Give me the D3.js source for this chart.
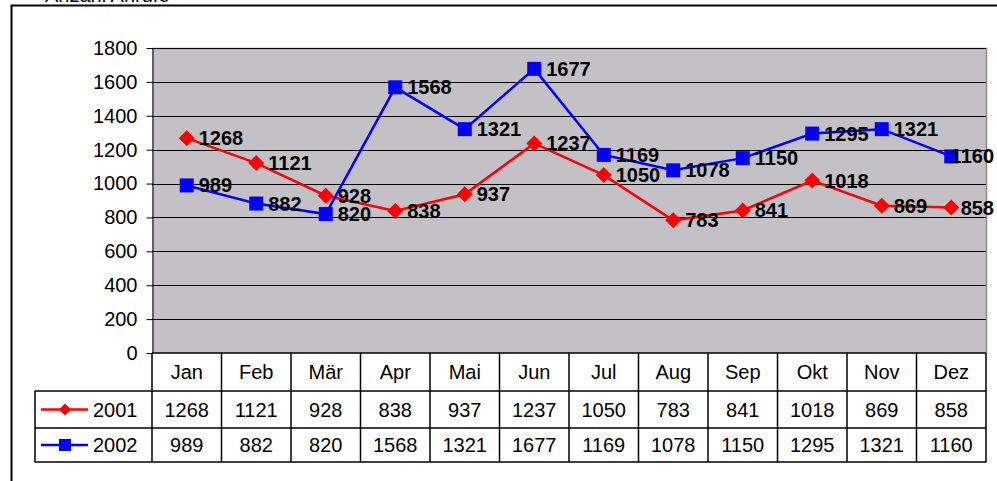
<!DOCTYPE html>
<html><head><meta charset="utf-8">
<script src="https://cdn.jsdelivr.net/npm/d3@7"></script>
<style>body{margin:0;background:#fff}svg{display:block;font-family:"Liberation Sans",Arial,sans-serif}</style>
</head><body><svg id="c" width="997" height="481"></svg>
<script>
const months = ["Jan","Feb","Mär","Apr","Mai","Jun","Jul","Aug","Sep","Okt","Nov","Dez"];
const s2001 = [1268,1121,928,838,937,1237,1050,783,841,1018,869,858];
const s2002 = [989,882,820,1568,1321,1677,1169,1078,1150,1295,1321,1160];
const yTicks = [0,200,400,600,800,1000,1200,1400,1600,1800];
const seriesNames = ["2001","2002"];
const colors = ["#ff0000","#0000ff"];

const svg = d3.select("#c");
const L = 152, R = 986, T = 48, B = 353;
const x = d3.scaleBand().domain(months).range([L, R]);
const y = d3.scaleLinear().domain([0,1800]).range([B, T]);
const FS = 20;

// outer frame
svg.append("path").attr("d","M11.5,481 V5.5 H997").attr("fill","none").attr("stroke","#000").attr("stroke-width",2);
svg.append("text").attr("x",45).attr("y",2).attr("font-size",FS).attr("fill","#000").text("Anzahl Anrufe");

// plot area
svg.append("rect").attr("x",L).attr("y",T).attr("width",R-L).attr("height",B-T).attr("fill","#c3c1c5");
svg.append("path").attr("d",`M${L},${T+0.5} H${R+0.5} V${B}`).attr("fill","none").attr("stroke","#8a8a8a").attr("stroke-width",1.5);
svg.append("g").selectAll("line").data(yTicks.filter(d=>d>0)).join("line")
  .attr("x1",L).attr("x2",R).attr("y1",d=>Math.round(y(d))+0.5).attr("y2",d=>Math.round(y(d))+0.5)
  .attr("stroke","#000").attr("stroke-width",1);

// y axis
const ya = svg.append("g").attr("transform",`translate(${L+0.5},0)`)
  .call(d3.axisLeft(y).tickValues(yTicks).tickFormat(d3.format("d")).tickSize(6).tickPadding(9).tickSizeOuter(0));
ya.select(".domain").attr("stroke","#000");
ya.selectAll("text").attr("font-size",FS).attr("font-family","Liberation Sans, Arial, sans-serif").attr("fill","#000");
ya.selectAll("line").attr("stroke","#000");

// lines & markers
const series = [s2001, s2002];
const line = d3.line().x((d,i)=>x(months[i])+x.bandwidth()/2).y(d=>y(d));
series.forEach((s,k)=>{
  svg.append("path").datum(s).attr("d",line).attr("fill","none").attr("stroke",colors[k]).attr("stroke-width",2.5);
});
series.forEach((s,k)=>{
  const g = svg.append("g");
  s.forEach((v,i)=>{
    const cx = x(months[i])+x.bandwidth()/2, cy = y(v);
    if(k===0){
      g.append("path").attr("d",`M${cx},${cy-8} L${cx+8},${cy} L${cx},${cy+8} L${cx-8},${cy} Z`).attr("fill",colors[k]);
    } else {
      g.append("rect").attr("x",cx-7).attr("y",cy-7).attr("width",14).attr("height",14).attr("fill",colors[k]);
    }
  });
});
series.forEach((s,k)=>{
  svg.append("g").selectAll("text").data(s).join("text")
    .attr("x",(d,i)=>x(months[i])+x.bandwidth()/2+12).attr("y",d=>y(d)+7)
    .attr("font-size",FS).attr("font-weight","bold").attr("fill","#000").text(d=>d)
    .each(function(){
      const w = this.getComputedTextLength();
      const x0 = +this.getAttribute("x");
      if (x0 + w > 994) this.setAttribute("x", 994 - w);
    });
});

// data table
const r0 = 353, r1 = 391, r2 = 428, r3 = 462, tl = 35;
const tb = svg.append("g").attr("stroke","#000").attr("stroke-width",1.5);
tb.append("line").attr("x1",L).attr("x2",R).attr("y1",r0).attr("y2",r0);
[r1,r2,r3].forEach(r=>tb.append("line").attr("x1",tl).attr("x2",R).attr("y1",r).attr("y2",r));
tb.append("line").attr("x1",tl).attr("x2",tl).attr("y1",r1).attr("y2",r3);
months.forEach(m=>tb.append("line").attr("x1",x(m)).attr("x2",x(m)).attr("y1",r0).attr("y2",r3));
tb.append("line").attr("x1",R).attr("x2",R).attr("y1",r0).attr("y2",r3);

svg.append("g").selectAll("text").data(months).join("text")
  .attr("x",d=>x(d)+x.bandwidth()/2).attr("y",(r0+r1)/2+7).attr("text-anchor","middle")
  .attr("font-size",FS).attr("fill","#000").text(d=>d);
series.forEach((s,k)=>{
  const ry = k===0 ? (r1+r2)/2 : (r2+r3)/2;
  svg.append("g").selectAll("text").data(s).join("text")
    .attr("x",(d,i)=>x(months[i])+x.bandwidth()/2).attr("y",ry+7).attr("text-anchor","middle")
    .attr("font-size",FS).attr("fill","#000").text(d=>d);
  svg.append("line").attr("x1",41).attr("x2",88).attr("y1",ry).attr("y2",ry).attr("stroke",colors[k]).attr("stroke-width",2.5);
  if(k===0) svg.append("path").attr("d",`M65,${ry-6} L71,${ry} L65,${ry+6} L59,${ry} Z`).attr("fill",colors[k]);
  else svg.append("rect").attr("x",59).attr("y",ry-6).attr("width",12).attr("height",12).attr("fill",colors[k]);
  svg.append("text").attr("x",93).attr("y",ry+7).attr("font-size",FS).attr("fill","#000").text(seriesNames[k]);
});
</script></body></html>
